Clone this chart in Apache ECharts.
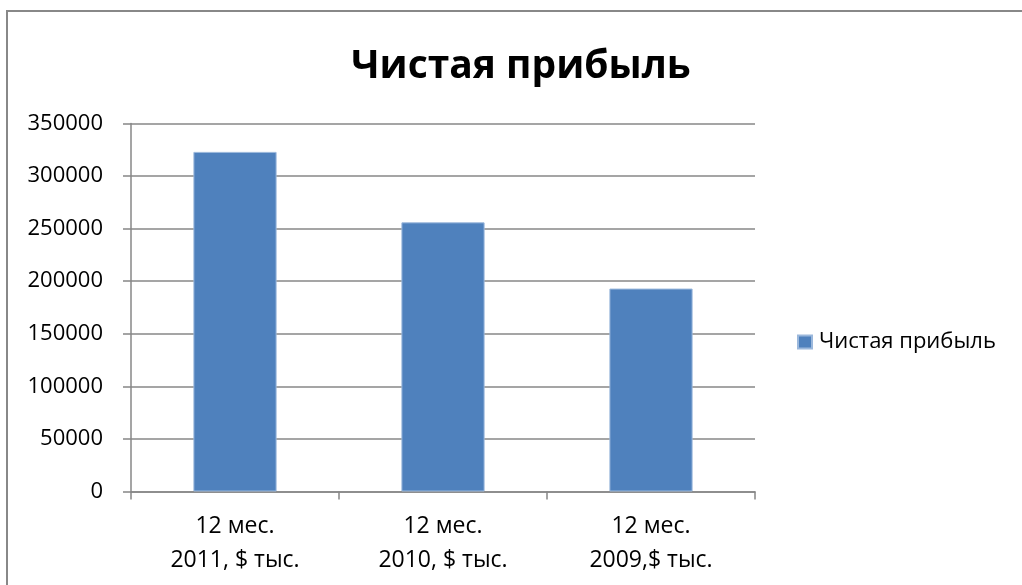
<!DOCTYPE html>
<html>
<head>
<meta charset="utf-8">
<script src="https://cdn.jsdelivr.net/npm/echarts@6/dist/echarts.min.js"></script>
<style>
  html, body { margin: 0; padding: 0; background: #fff; }
  #chart { width: 1022px; height: 585px; }
</style>
</head>
<body>
<div id="chart"></div>
<script>
// Net profit by reporting year, thousands of USD
const categories = ['12 мес.\n2011, $ тыс.', '12 мес.\n2010, $ тыс.', '12 мес.\n2009,$ тыс.'];
const profitValues = [323000, 256000, 193000];
const seriesName = 'Чистая прибыль';
const titleText = 'Чистая прибыль';

const FONT = '"Open Sans", "Noto Sans", sans-serif';
const LINE = '#878787';

const chart = echarts.init(document.getElementById('chart'), null, { renderer: 'canvas' });

chart.setOption({
  backgroundColor: '#fff',
  animation: false,
  textStyle: { fontFamily: FONT },
  title: {
    text: titleText,
    left: 516,
    top: 42,
    textAlign: 'center',
    textStyle: { fontFamily: FONT, fontWeight: 'bold', fontSize: 39, color: '#000' }
  },
  legend: {
    data: [seriesName],
    left: 797,
    top: 331,
    padding: 0,
    orient: 'vertical',
    icon: 'rect',
    itemWidth: 14,
    itemHeight: 13,
    textStyle: { fontFamily: FONT, fontSize: 22, color: '#000', padding: [0, 0, 0, 2] }
  },
  grid: { left: 131, right: 267, top: 123.5, bottom: 93.5, containLabel: false },
  xAxis: {
    type: 'category',
    data: categories,
    axisLine: { lineStyle: { color: LINE, width: 1.5 } },
    axisTick: { show: true, length: 8, lineStyle: { color: LINE, width: 1.5 } },
    axisLabel: { fontFamily: FONT, fontSize: 23, color: '#000', lineHeight: 34, margin: 18, interval: 0 }
  },
  yAxis: {
    type: 'value',
    min: 0,
    max: 350000,
    interval: 50000,
    axisLine: { show: true, lineStyle: { color: LINE, width: 1.5 } },
    axisTick: { show: true, length: 8, lineStyle: { color: LINE, width: 1.5 } },
    splitLine: { show: true, lineStyle: { color: LINE, width: 1.5 } },
    axisLabel: { fontFamily: FONT, fontSize: 22, color: '#000', margin: 28, formatter: v => String(v) }
  },
  series: [{
    name: seriesName,
    type: 'bar',
    data: profitValues,
    barWidth: '40%',
    itemStyle: { color: '#4F81BD', borderColor: '#9bb8dc', borderWidth: 1 }
  }],
  graphic: [{
    type: 'rect',
    shape: { x: 7, y: 11, width: 1200, height: 1000 },
    style: { fill: 'none', stroke: '#888', lineWidth: 2 },
    silent: true
  }]
});
</script>
</body>
</html>
